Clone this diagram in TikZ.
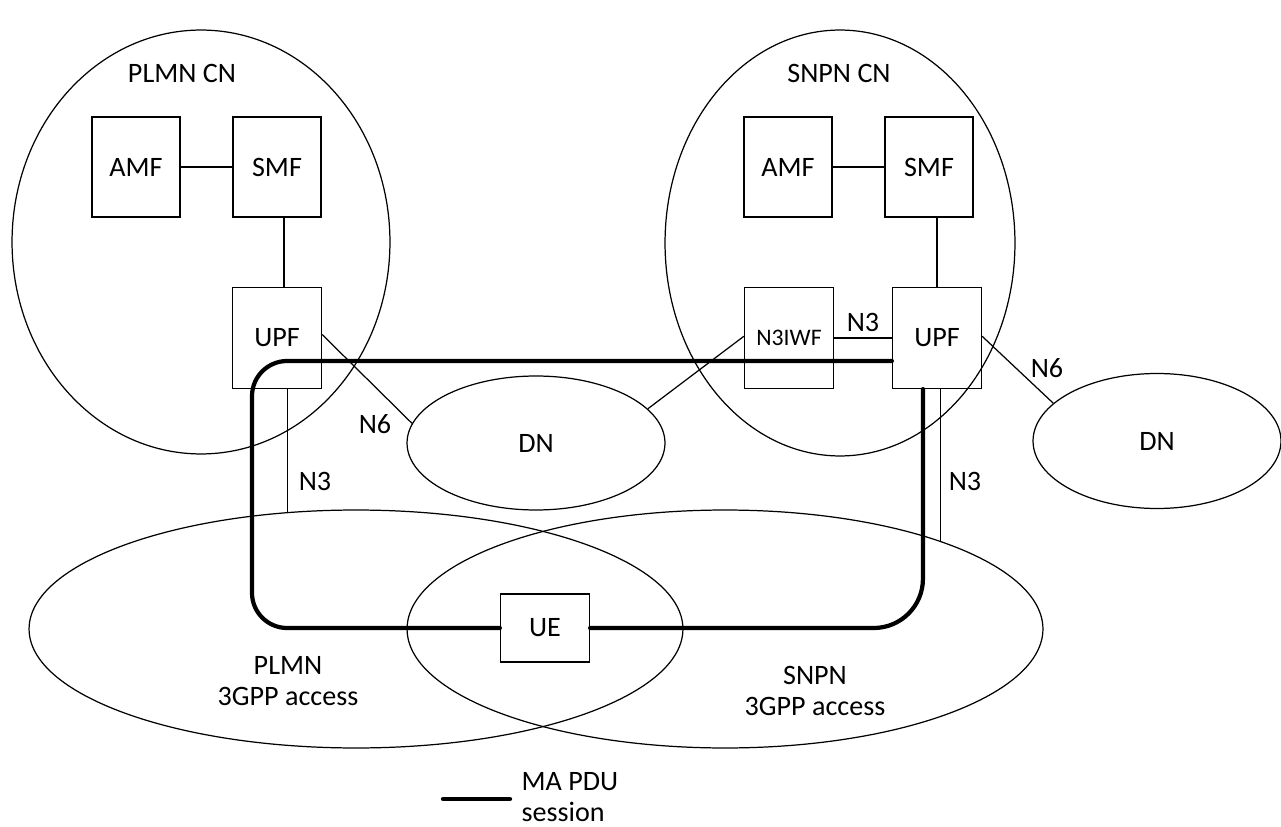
\documentclass[tikz,border=0pt]{standalone}
\usepackage{fontspec}
\setmainfont{Carlito}
\usetikzlibrary{shapes.geometric}
\begin{document}
\begin{tikzpicture}[x=0.02cm,y=-0.02cm,line width=0.7pt,
  font=\fontsize{16}{18}\selectfont,
  nf/.style={draw,minimum width=1.78cm,minimum height=2.02cm,inner sep=0pt},
  cloud/.style={draw,ellipse,inner sep=0pt},
  session/.style={line width=2.4pt,line cap=round,rounded corners=20pt}]
\useasboundingbox (0,0) rectangle (1281,827);
\node[cloud,minimum width=7.56cm,minimum height=8.48cm] (plmncn) at (201,242) {};
\node[cloud,minimum width=7.0cm,minimum height=8.52cm] (snpncn) at (840,243) {};
\node[cloud,minimum width=5.16cm,minimum height=2.68cm] (dnA) at (536,443) {DN};
\node[cloud,minimum width=4.96cm,minimum height=2.7cm] (dnB) at (1157,441) {DN};
\node[cloud,minimum width=13.08cm,minimum height=4.76cm] (accA) at (356,629) {};
\node[cloud,minimum width=12.72cm,minimum height=4.76cm] (accB) at (725,629) {};
\node (plmncnlab) at (182,73) {PLMN CN};
\node (snpncnlab) at (839,73) {SNPN CN};
\node[align=center] (accAlab) at (288,681) {PLMN\\3GPP access};
\node[align=center] (accBlab) at (815,691) {SNPN\\3GPP access};
\node[nf,minimum width=1.76cm,minimum height=2cm] (amfA) at (136,167) {AMF};
\node[nf,minimum width=1.76cm,minimum height=2cm] (smfA) at (277,167) {SMF};
\node[nf] (upfA) at (277,338) {UPF};
\node[nf,minimum width=1.76cm,minimum height=2cm] (amfB) at (788,167) {AMF};
\node[nf,minimum width=1.76cm,minimum height=2cm] (smfB) at (929,167) {SMF};
\node[nf,font=\fontsize{13.5}{16}\selectfont] (n3iwf) at (789,338) {N3IWF};
\node[nf] (upfB) at (937,338) {UPF};
\node[nf,minimum height=1.36cm] (ue) at (545,628) {UE};
\draw (amfA) -- (smfA);
\draw ([xshift=4pt]smfA.south) -- ([xshift=4pt]upfA.north);
\draw ([xshift=6pt]upfA.south) -- ([xshift=6pt]upfA.south |- accA.120);
\draw ([yshift=2pt]upfA.east) -- (dnA.171);
\draw (amfB) -- (smfB);
\draw (upfB.north |- smfB.south) -- (upfB.north);
\draw (dnA.17) -- ([yshift=1pt]n3iwf.west);
\draw (n3iwf) -- (upfB) node[midway,above] (n3mid) {N3};
\draw ([yshift=1pt]upfB.east) -- (dnB.160);
\draw ([xshift=2pt]upfB.south) -- ([xshift=2pt]upfB.south |- accB.22);
\node (n3A) at (315,481) {N3};
\node (n6A) at (375,424) {N6};
\node (n3B) at (965,481) {N3};
\node (n6B) at (1047,368) {N6};
\coordinate (bend) at (252,361);
\draw[session] (ue.west) -| (bend) -- (bend -| upfB.west);
\draw[session,rounded corners=28pt] (ue.east) -| ([xshift=-8pt]upfB.south);
\node[align=left,anchor=west,inner sep=0pt] (legtext) at (521,797) {MA PDU\\session};
\coordinate (legstart) at (443,799);
\draw[session] (legstart) -- (legstart -| 510,0);
\end{tikzpicture}
\end{document}
